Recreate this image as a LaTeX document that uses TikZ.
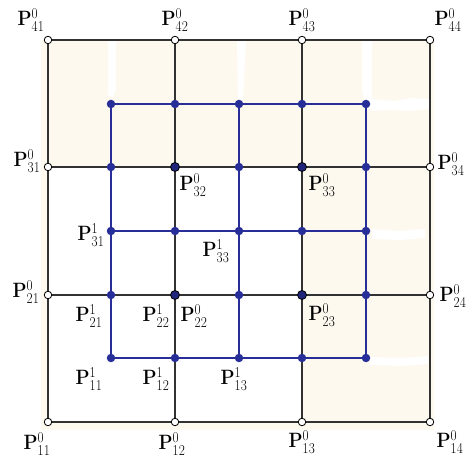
\documentclass[tikz,border=0pt]{standalone}
\usepackage{amsmath}
\usepackage{graphicx}
\newcommand{\scrp}[1]{\mbox{\fontsize{15}{15}\selectfont #1}}
\newcommand{\Plab}[2]{\scalebox{0.88}[1]{$\mathbf{P}^{\scrp{#1}}_{\scrp{#2}}$}}
\definecolor{beige}{RGB}{253,249,239}
\definecolor{myblue}{RGB}{40,46,152}
\definecolor{linegray}{RGB}{50,50,50}
\tikzset{
  ctrl/.style={circle, draw=black, fill=white, inner sep=0pt, minimum size=7.5pt, line width=0.8pt},
  bdot/.style={circle, fill=myblue, inner sep=0pt, minimum size=8.5pt},
  idot/.style={circle, fill=myblue!80!black, draw=black, inner sep=0pt, minimum size=9pt, line width=0.8pt},
  blk/.style={draw=linegray, line width=1.3pt},
  bl/.style={draw=myblue, line width=1.6pt},
  lab/.style={font=\fontsize{19.5}{22}\selectfont, inner sep=0pt, text=black},
  streak/.style={fill=white, draw=none}
}
\begin{document}
\begin{tikzpicture}[x=1pt,y=-1pt]
\useasboundingbox (0,0) rectangle (469,462);
% background tint
\fill[beige] (41,40) rectangle (434,430);
\fill[white] (48,167) rectangle (302,422);
% white streaks
\fill[streak] (108,40) -- (116,40) -- (116,90) -- (113,97) -- (108,95) -- cycle;
\fill[streak] (237,40) -- (246,40) -- (243,100) -- (238,100) -- cycle;
\fill[streak] (362,40) -- (372,40) -- (372,99) -- (395,101) -- (412,98) -- (430,99) -- (430,109) -- (410,111) -- (390,110) -- (372,111) -- (365,104) -- (362,90) -- cycle;
\fill[streak] (372,229) -- (400,231) -- (425,229) -- (425,238) -- (400,240) -- (372,239) -- cycle;
\fill[streak] (370,357) -- (400,358) -- (428,356) -- (428,364) -- (400,366) -- (370,365) -- cycle;
% coordinates of the outer control net
\foreach \i/\y in {1/422,2/295,3/167,4/40}{
  \foreach \j/\x in {1/48,2/175,3/302,4/430}{
    \coordinate (O\i\j) at (\x,\y);
  }
}
% coordinates of the refined net
\foreach \i/\y in {1/358,2/295,3/231,4/167,5/104}{
  \foreach \j/\x in {1/111,2/175,3/239,4/302,5/366}{
    \coordinate (B\i\j) at (\x,\y);
  }
}
% blue refined net
\foreach \k in {1,...,5}{
  \draw[bl] (B\k1) -- (B\k5);
  \draw[bl] (B1\k) -- (B5\k);
}
% black control net
\foreach \k in {1,...,4}{
  \draw[blk] (O\k1) -- (O\k4);
  \draw[blk] (O1\k) -- (O4\k);
}
% blue dots
\foreach \i in {1,...,5}{
  \foreach \j in {1,...,5}{
    \node[bdot] (b\i\j) at (B\i\j) {};
  }
}
% inner control points
\foreach \p in {22,23,32,33}{
  \node[idot] (c\p) at (O\p) {};
}
% outer control points
\foreach \p in {11,12,13,14,21,24,31,34,41,42,43,44}{
  \node[ctrl] (c\p) at (O\p) {};
}
% labels
\node[lab] (l41) at (31,20) {\Plab{0}{41}};
\node[lab] (l42) at (175,20) {\Plab{0}{42}};
\node[lab] (l43) at (302,20) {\Plab{0}{43}};
\node[lab] (l44) at (448,20) {\Plab{0}{44}};
\node[lab] (l31) at (27,161) {\Plab{0}{31}};
\node[lab] (l34) at (451,164) {\Plab{0}{34}};
\node[lab] (l21) at (26,292) {\Plab{0}{21}};
\node[lab] (l24) at (453,296) {\Plab{0}{24}};
\node[lab] (l11) at (37,444) {\Plab{0}{11}};
\node[lab] (l12) at (172,444) {\Plab{0}{12}};
\node[lab] (l13) at (302,442) {\Plab{0}{13}};
\node[lab] (l14) at (450,442) {\Plab{0}{14}};
\node[lab] (l32) at (193,185) {\Plab{0}{32}};
\node[lab] (l33) at (322,185) {\Plab{0}{33}};
\node[lab] (m31) at (91,235) {\Plab{1}{31}};
\node[lab] (m33) at (216,251) {\Plab{1}{33}};
\node[lab] (m21) at (89,316) {\Plab{1}{21}};
\node[lab] (m22) at (156,316) {\Plab{1}{22}};
\node[lab] (l22) at (194,316) {\Plab{0}{22}};
\node[lab] (l23) at (322,315) {\Plab{0}{23}};
\node[lab] (m11) at (89,379) {\Plab{1}{11}};
\node[lab] (m12) at (156,379) {\Plab{1}{12}};
\node[lab] (m13) at (234,379) {\Plab{1}{13}};
\end{tikzpicture}
\end{document}
